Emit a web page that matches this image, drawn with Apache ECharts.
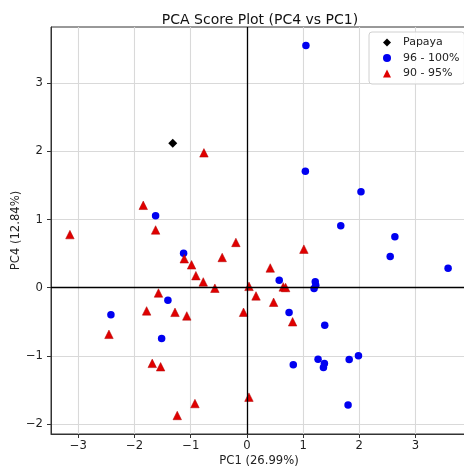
<!DOCTYPE html>
<html>
<head>
<meta charset="utf-8">
<script src="https://cdn.jsdelivr.net/npm/echarts@6/dist/echarts.min.js"></script>
<style>
  html, body { margin: 0; padding: 0; background: #fff; }
  #chart { width: 464px; height: 471px; }
</style>
</head>
<body>
<div id="chart"></div>
<script>
// PCA scores: [PC1, PC4]
const papayaScores = [[-1.32, 2.12]];

const scores96to100 = [
  [1.05, 3.556], [1.04, 1.71], [2.03, 1.41], [1.67, 0.91], [2.633, 0.747],
  [2.55, 0.458], [3.58, 0.287], [-1.625, 1.056], [-1.127, 0.505], [-1.406, -0.182],
  [-2.42, -0.395], [-1.518, -0.747], [0.575, 0.11], [1.216, 0.087], [1.225, 0.038],
  [1.195, -0.012], [0.75, -0.362], [1.385, -0.551], [0.825, -1.13], [1.266, -1.05],
  [1.379, -1.113], [1.362, -1.17], [1.82, -1.053], [1.985, -0.998], [1.80, -1.72]
];

const scores90to95 = [
  [-0.765, 1.98], [-1.845, 1.21], [-3.15, 0.78], [-1.625, 0.848], [-0.196, 0.665],
  [-1.115, 0.425], [-0.44, 0.444], [-0.985, 0.336], [-0.908, 0.177], [-0.777, 0.085],
  [-0.57, -0.007], [0.037, 0.02], [0.162, -0.12], [-1.574, -0.077], [-1.785, -0.34],
  [-1.28, -0.361], [-1.07, -0.414], [-0.06, -0.36], [-2.455, -0.684], [-1.685, -1.11],
  [-1.536, -1.16], [-0.925, -1.70], [0.036, -1.606], [-1.24, -1.875], [1.014, 0.566],
  [0.415, 0.29], [0.646, 0.012], [0.689, 0.003], [0.475, -0.213], [0.813, -0.5]
];

const xTickValues = [-3, -2, -1, 0, 1, 2, 3];
const yTickValues = [-2, -1, 0, 1, 2, 3];
const xLimits = [-3.4865, 3.9165];
const yLimits = [-2.147, 3.827];

const FONT = 'DejaVu Sans';
const minusFmt = v => (v < 0 ? '\u2212' + Math.abs(v) : String(v));

const chart = echarts.init(document.getElementById('chart'), null, { renderer: 'canvas' });

const axisCommon = {
  type: 'value',
  nameMoveOverlap: false,
  axisLine: { show: true, onZero: false, lineStyle: { color: '#333', width: 1 } },
  axisTick: { show: true, inside: false, length: 4, lineStyle: { color: '#333', width: 1 } },
  splitLine: { show: true, lineStyle: { color: '#d9d9d9', width: 1.1 } },
  nameTextStyle: { fontFamily: FONT, fontSize: 11.6, color: '#222' }
};

chart.setOption({
  animation: false,
  backgroundColor: '#fff',
  title: {
    text: 'PCA Score Plot (PC4 vs PC1)',
    left: 255,
    top: 8,
    textAlign: 'center',
    textStyle: { fontFamily: FONT, fontSize: 14, fontWeight: 'normal', color: '#111' }
  },
  grid: {
    left: 51, right: -3, top: 27, bottom: 37,
    containLabel: false,
    outerBoundsMode: 'none',
    show: true, borderColor: '#333', borderWidth: 1, backgroundColor: 'transparent'
  },
  xAxis: Object.assign({}, axisCommon, {
    min: xLimits[0], max: xLimits[1],
    name: 'PC1 (26.99%)', nameLocation: 'middle', nameGap: 21,
    axisTick: Object.assign({}, axisCommon.axisTick, { customValues: xTickValues }),
    axisLabel: {
      customValues: xTickValues, formatter: minusFmt, margin: 6,
      fontFamily: FONT, fontSize: 11.6, color: '#222'
    }
  }),
  yAxis: Object.assign({}, axisCommon, {
    min: yLimits[0], max: yLimits[1],
    name: 'PC4 (12.84%)', nameLocation: 'middle', nameGap: 29, nameRotate: 90,
    axisTick: Object.assign({}, axisCommon.axisTick, { customValues: yTickValues }),
    axisLabel: {
      customValues: yTickValues, formatter: minusFmt, margin: 8,
      fontFamily: FONT, fontSize: 11.6, color: '#222'
    }
  }),
  legend: {
    orient: 'vertical',
    left: 369, top: 32,
    padding: [4, 5, 4, 14],
    itemWidth: 8, itemHeight: 8, itemGap: 2.5,
    itemStyle: { borderWidth: 0 },
    backgroundColor: 'rgba(255,255,255,0.85)',
    borderColor: '#d0d0d0', borderWidth: 1, borderRadius: 3,
    textStyle: { fontFamily: FONT, fontSize: 11, color: '#222', lineHeight: 13, padding: [0, 0, 0, 7] },
    data: ['Papaya', '96 - 100%', '90 - 95%']
  },
  series: [
    {
      name: 'zero-lines',
      type: 'scatter',
      data: [],
      silent: true,
      z: 1,
      markLine: {
        silent: true,
        symbol: 'none',
        label: { show: false },
        lineStyle: { color: '#000', width: 1.3, type: 'solid' },
        data: [{ xAxis: 0 }, { yAxis: 0 }]
      }
    },
    {
      name: '96 - 100%',
      type: 'scatter',
      symbol: 'circle',
      symbolSize: 7.5,
      z: 3,
      itemStyle: { color: '#0000f0', opacity: 1 },
      data: scores96to100
    },
    {
      name: '90 - 95%',
      type: 'scatter',
      symbol: 'triangle',
      symbolSize: 8.5,
      z: 3,
      itemStyle: { color: '#e00000', borderColor: '#b00000', borderWidth: 0.5, opacity: 1 },
      data: scores90to95
    },
    {
      name: 'Papaya',
      type: 'scatter',
      symbol: 'diamond',
      symbolSize: 9,
      z: 4,
      itemStyle: { color: '#000', opacity: 1 },
      data: papayaScores
    }
  ]
});
</script>
</body>
</html>
